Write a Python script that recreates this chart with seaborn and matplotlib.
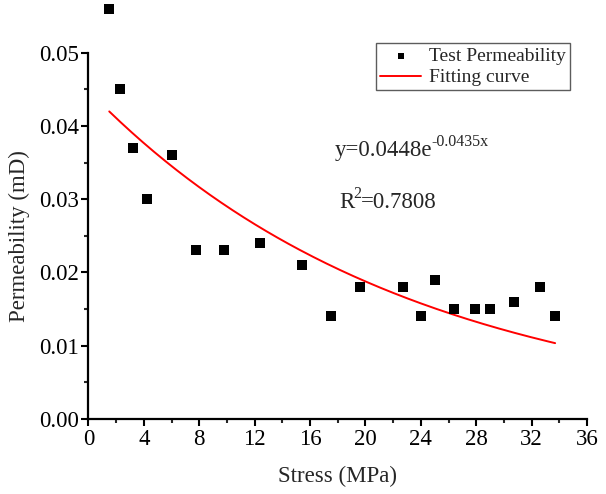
import numpy as np
import pandas as pd
import matplotlib
matplotlib.use("Agg")
import matplotlib.pyplot as plt
from matplotlib.ticker import MultipleLocator, FormatStrFormatter
import seaborn as sns

# Data
stress = [1.5, 2.3, 3.2, 4.2, 6.0, 7.8, 9.8, 12.4, 15.4, 17.5,
          19.6, 22.7, 24.0, 25.0, 26.4, 27.9, 29.0, 30.7, 32.6, 33.7]
permeability = [0.056, 0.045, 0.037, 0.030, 0.036, 0.023, 0.023, 0.024, 0.021, 0.014,
                0.018, 0.018, 0.014, 0.019, 0.015, 0.015, 0.015, 0.016, 0.018, 0.014]
fit_a = 0.0448
fit_b = -0.0435
fit_range = [1.5, 33.7]
x_ticks = [0, 4, 8, 12, 16, 20, 24, 28, 32, 36]
y_ticks = [0.00, 0.01, 0.02, 0.03, 0.04, 0.05]

sns.set_theme(style="ticks")
plt.rcParams['font.family'] = ['Liberation Serif', 'DejaVu Serif']

fig = plt.figure(figsize=(6.06, 4.94), dpi=100)
ax = fig.add_axes([0.146, 0.152, 0.8226, 0.7415])

df = pd.DataFrame({"Stress": stress, "Permeability": permeability})
xf = np.linspace(fit_range[0], fit_range[1], 200)
fit_df = pd.DataFrame({"Stress": xf, "Fit": fit_a * np.exp(fit_b * xf)})

sns.lineplot(data=fit_df, x="Stress", y="Fit", ax=ax, color="red", linewidth=1.4,
             label="Fitting curve", zorder=2)
sns.scatterplot(data=df, x="Stress", y="Permeability", ax=ax, marker="s", s=48,
                color="black", linewidth=0, label="Test Permeability", zorder=3)
for coll in ax.collections:
    coll.set_clip_on(False)

ax.set_xlim(0, 36)
ax.set_ylim(0, 0.05)
ax.set_xticks(x_ticks)
ax.set_yticks(y_ticks)
ax.xaxis.set_minor_locator(MultipleLocator(2))
ax.yaxis.set_minor_locator(MultipleLocator(0.005))
ax.yaxis.set_major_formatter(FormatStrFormatter('%.2f'))
ax.tick_params(which='major', direction='out', length=5, width=1.5, labelsize=16.5,
               colors='black', pad=2)
ax.tick_params(which='minor', direction='out', length=3, width=1.5)
for s in ['top', 'right']:
    ax.spines[s].set_visible(False)
for s in ['left', 'bottom']:
    ax.spines[s].set_linewidth(1.6)
    ax.spines[s].set_color('black')

ax.set_xlabel("Stress (MPa)", fontsize=16.5, labelpad=12)
ax.set_ylabel("Permeability (mD)", fontsize=16.5, labelpad=6)

handles, labels = ax.get_legend_handles_labels()
order = [labels.index("Test Permeability"), labels.index("Fitting curve")]
leg = ax.legend([handles[i] for i in order], [labels[i] for i in order],
                loc='upper right', bbox_to_anchor=(0.9406, 0.9123),
                bbox_transform=fig.transFigure, borderaxespad=0,
                fontsize=14, frameon=True, fancybox=False, edgecolor='#333333',
                handlelength=2.15, handletextpad=0.4, labelspacing=0.2,
                borderpad=0.2, markerscale=0.65)
leg.get_frame().set_linewidth(1.0)

# Equation text with hand-placed superscripts
t1 = fig.text(335 / 606, 1 - 156 / 494, "y=0.0448e", fontsize=16.5,
              va='baseline', ha='left')
t2 = fig.text(339 / 606, 1 - 208 / 494, "R", fontsize=16.5,
              va='baseline', ha='left')
fig.canvas.draw()
r = fig.canvas.get_renderer()
for base, sup, tail in [(t1, "-0.0435x", ""), (t2, "2", "=0.7808")]:
    bb = base.get_window_extent(renderer=r)
    x0 = (bb.x1 - 1) / fig.bbox.width
    st = fig.text(x0, base.get_position()[1] + 10 / 494, sup,
                  fontsize=11.5, va='baseline', ha='left')
    if tail:
        fig.canvas.draw()
        sb = st.get_window_extent(renderer=r)
        fig.text(sb.x1 / fig.bbox.width, base.get_position()[1], tail,
                 fontsize=16.5, va='baseline', ha='left')

fig.savefig("out.png", dpi=100)
